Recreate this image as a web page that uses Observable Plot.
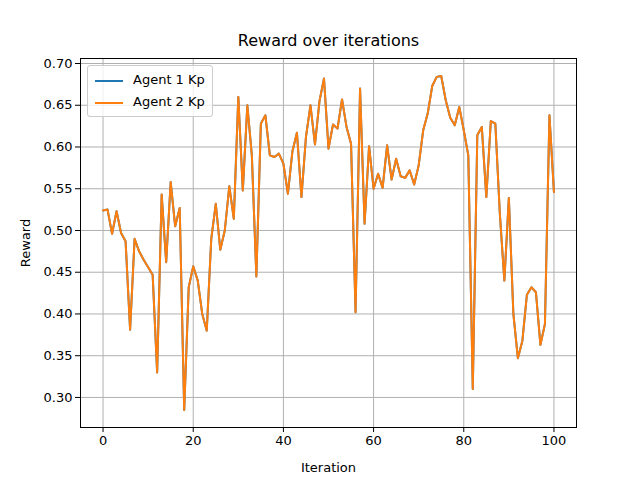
<!DOCTYPE html>
<html><head>
<script src="https://cdn.jsdelivr.net/npm/d3@7"></script>
<script src="https://cdn.jsdelivr.net/npm/@observablehq/plot@0.6"></script>
<style>
body{margin:0;background:#fff;font-family:"DejaVu Sans",sans-serif}
#wrap{position:relative;width:640px;height:480px}
.legend{position:absolute;left:87px;top:65px;background:rgba(255,255,255,0.8);border:1px solid #ccc;border-radius:3px;padding:3px 7px;font-size:13px;line-height:22px}
.legend span.sw{display:inline-block;width:28px;height:2px;vertical-align:middle;margin-right:10px}
</style>
</head><body>
<div id="wrap"></div>
<script>
const iterations = d3.range(0, 101);
const agent1 = [0.524,0.525,0.496,0.523,0.497,0.487,0.381,0.490,0.475,0.465,0.456,0.447,0.330,0.543,0.462,0.558,0.505,0.527,0.285,0.432,
0.457,0.440,0.400,0.380,0.490,0.532,0.477,0.500,0.553,0.514,0.660,0.548,0.650,0.590,0.445,0.628,0.638,0.590,0.588,0.592,
0.580,0.544,0.595,0.617,0.540,0.612,0.650,0.603,0.655,0.682,0.598,0.627,0.622,0.657,0.624,0.604,0.402,0.670,0.508,0.601,
0.550,0.568,0.551,0.602,0.561,0.586,0.565,0.563,0.572,0.555,0.578,0.620,0.640,0.673,0.684,0.685,0.656,0.635,0.626,0.648,
0.620,0.590,0.310,0.614,0.624,0.540,0.631,0.628,0.520,0.440,0.539,0.400,0.347,0.368,0.423,0.432,0.426,0.363,0.388,0.638,0.546];
const agent2 = agent1.slice();
const series = [
  {name: "Agent 1 Kp", values: agent1, color: "#1f77b4"},
  {name: "Agent 2 Kp", values: agent2, color: "#ff7f0e"}
];
const rows = series.flatMap(s => s.values.map((v, i) => ({it: iterations[i], v, name: s.name})));

const chart = Plot.plot({
  width: 640, height: 480,
  marginLeft: 80, marginRight: 64, marginTop: 58, marginBottom: 53,
  style: {fontFamily: "DejaVu Sans", fontSize: "13px", color: "#000"},
  x: {domain: [-5, 105], ticks: [0,20,40,60,80,100], tickSize: 5, tickPadding: 3, label: "Iteration", labelAnchor: "center", labelOffset: 44, labelArrow: "none"},
  y: {domain: [0.264, 0.706], ticks: d3.range(0.30, 0.701, 0.05), tickFormat: d3.format(".2f"), tickSize: 5, tickPadding: 3, label: "Reward", labelAnchor: "center", labelOffset: 60, labelArrow: "none"},
  color: {domain: series.map(s => s.name), range: series.map(s => s.color)},
  marks: [
    Plot.gridX([0,20,40,60,80,100], {stroke: "#b0b0b0", strokeOpacity: 1, strokeWidth: 1}),
    Plot.gridY(d3.range(0.30, 0.701, 0.05), {stroke: "#b0b0b0", strokeOpacity: 1, strokeWidth: 1}),
    Plot.lineY(rows, {x: "it", y: "v", stroke: "name", z: "name", strokeWidth: 2}),
    Plot.frame({stroke: "#000"}),
    Plot.text(["Reward over iterations"], {frameAnchor: "top", dy: -24, fontSize: 16})
  ]
});
const wrap = document.getElementById("wrap");
wrap.append(chart);
const leg = document.createElement("div");
leg.className = "legend";
leg.innerHTML = series.map(s => `<div><span class="sw" style="background:${s.color}"></span>${s.name}</div>`).join("");
wrap.append(leg);
</script>
</body></html>
